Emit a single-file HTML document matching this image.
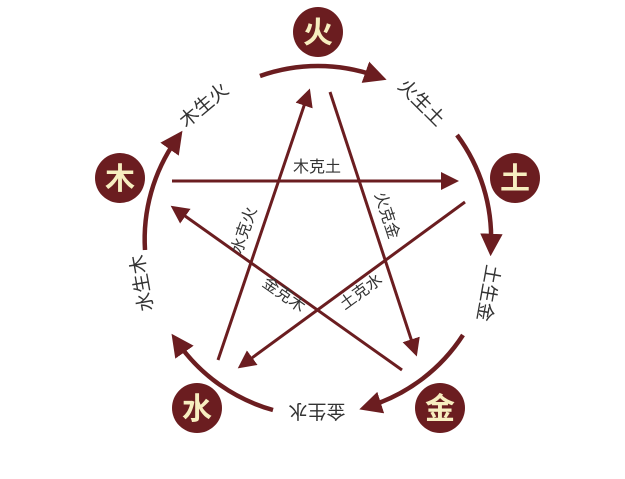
<!DOCTYPE html>
<html><head><meta charset="utf-8"><style>
html,body{margin:0;padding:0;background:#fff;}
svg{display:block}
text{font-family:"Liberation Sans","Noto Sans CJK SC",sans-serif;}
</style></head><body>
<svg width="625" height="479" viewBox="0 0 625 479" xmlns="http://www.w3.org/2000/svg">
<defs>
<marker id="a" markerWidth="6" markerHeight="6" refX="3" refY="3" orient="auto" markerUnits="strokeWidth">
<path d="M0,0 L6,3 L0,6 Z" fill="#6b1d20"/></marker>
<marker id="b" markerWidth="5" markerHeight="5" refX="2.5" refY="2.5" orient="auto" markerUnits="strokeWidth">
<path d="M0,0 L5,2.5 L0,5 Z" fill="#6b1d20"/></marker>
</defs>
<g fill="none" stroke="#6b1d20" stroke-width="4.5">
<path d="M260,76 A173,173 0 0 1 376,76" marker-end="url(#b)"/>
<path d="M457,135 A173,173 0 0 1 491,245" marker-end="url(#b)"/>
<path d="M463,335 A173,173 0 0 1 370,406" marker-end="url(#b)"/>
<path d="M273,410 A173,173 0 0 1 178,343" marker-end="url(#b)"/>
<path d="M145,250 A173,173 0 0 1 176,140" marker-end="url(#b)"/>
</g>
<g fill="none" stroke="#6b1d20" stroke-width="3">
<line x1="172" y1="181" x2="450" y2="181" marker-end="url(#a)"/>
<line x1="218" y1="360" x2="307" y2="97" marker-end="url(#a)"/>
<line x1="330" y1="92" x2="414" y2="348" marker-end="url(#a)"/>
<line x1="465" y1="202" x2="245" y2="363" marker-end="url(#a)"/>
<line x1="402" y1="370" x2="178" y2="211" marker-end="url(#a)"/>
</g>
<g fill="#6b1d20">
<circle cx="318" cy="32" r="25"/>
<circle cx="120" cy="178" r="25"/>
<circle cx="515" cy="178" r="25"/>
<circle cx="197" cy="408" r="25"/>
<circle cx="440" cy="408" r="25"/>
</g>
<g fill="#f7eec0" font-size="30" font-weight="bold" text-anchor="middle">
<text x="318" y="43">火</text>
<text x="120" y="189">木</text>
<text x="515" y="189">土</text>
<text x="197" y="419">水</text>
<text x="440" y="419">金</text>
</g>
<g fill="#333" font-size="19" text-anchor="middle">
<text transform="translate(208,110) rotate(-40)">木生火</text>
<text transform="translate(417,107) rotate(45)">火生土</text>
<text transform="translate(482,292) rotate(100)">土生金</text>
<text transform="translate(317,405) rotate(180)">金生水</text>
<text transform="translate(148,282) rotate(-100)">水生木</text>
</g>
<g fill="#333" font-size="16" text-anchor="middle">
<text x="317" y="172">木克土</text>
<text transform="translate(249,232) rotate(-71)">水克火</text>
<text transform="translate(382,217) rotate(72)">火克金</text>
<text transform="translate(281,299) rotate(35)">金克木</text>
<text transform="translate(364,296) rotate(-36)">土克水</text>
</g>
</svg>
</body></html>
